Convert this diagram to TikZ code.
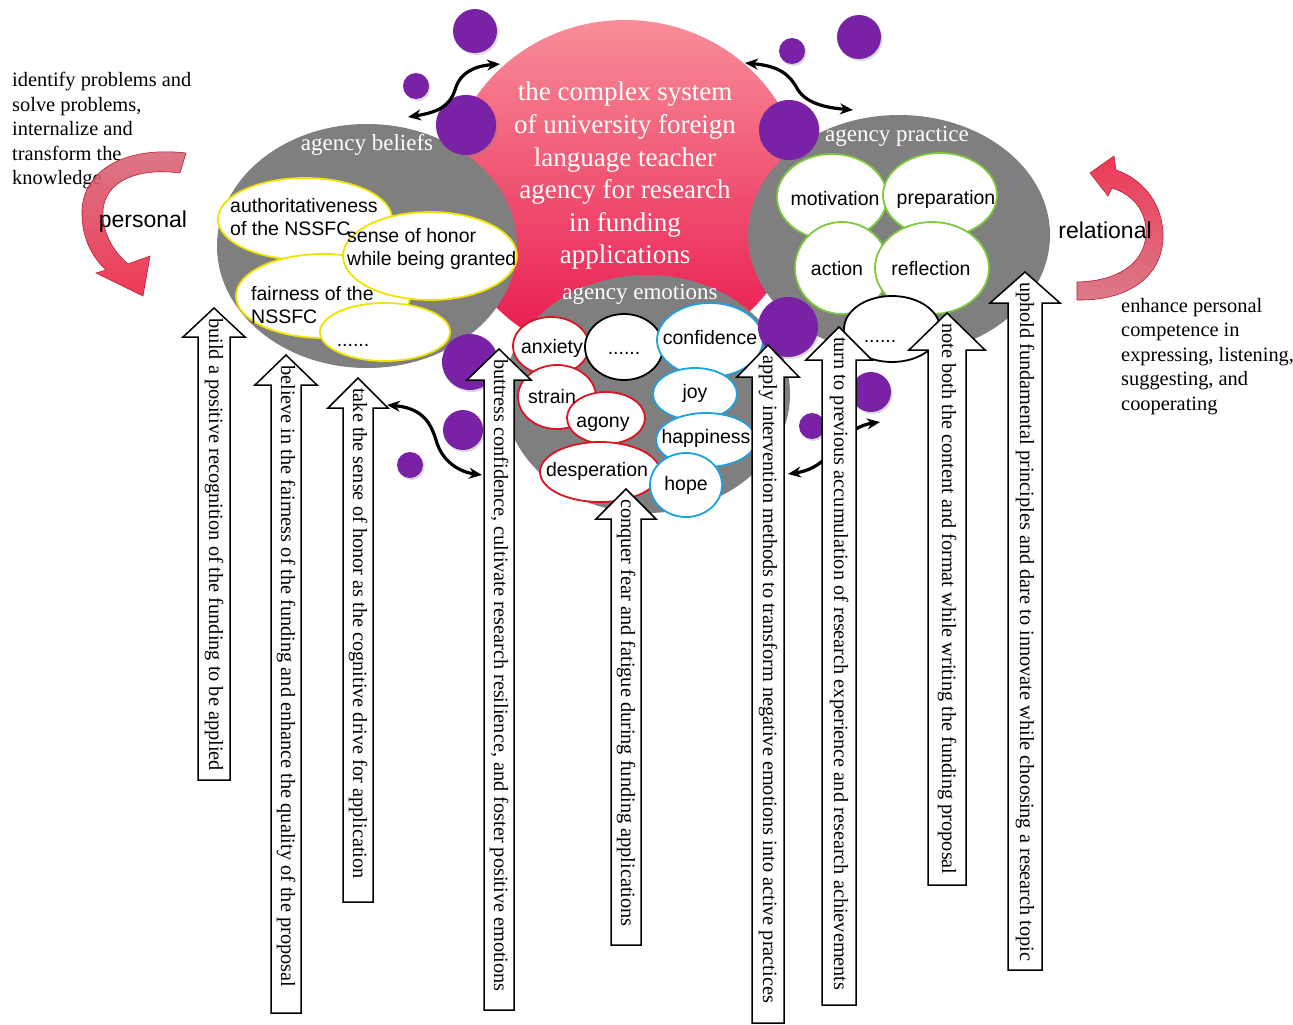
\documentclass[tikz,border=0pt]{standalone}
\usepackage{fontspec}
\setmainfont{Liberation Serif}
\setsansfont{Liberation Sans}
\usetikzlibrary{shapes.geometric,arrows.meta,shadows}
\definecolor{gbg}{RGB}{127,127,127}
\definecolor{yelb}{RGB}{238,228,0}
\definecolor{redb}{RGB}{218,20,35}
\definecolor{blueb}{RGB}{30,160,225}
\definecolor{greenb}{RGB}{125,200,60}
\definecolor{purpc}{RGB}{122,34,165}
\definecolor{pinktop}{RGB}{248,142,152}
\definecolor{pinkmid}{RGB}{244,105,125}
\definecolor{pinkbot}{RGB}{232,20,75}
\definecolor{arrpale}{RGB}{214,108,124}
\definecolor{arrred}{RGB}{236,36,68}
\newcommand{\myvup}[8]{%
  \draw[arrowbox] (#2-#6,#5) -- (#2-#6,#4) -- (#2-#7,#4) -- (#2,#3) -- (#2+#7,#4) -- (#2+#6,#4) -- (#2+#6,#5) -- cycle;
  \node[arrowtext] (#1) at (#2,#3+10) {#8};}
\begin{document}
\begin{tikzpicture}[x=1pt,y=-1pt,
  grayel/.style={ellipse, fill=gbg, inner sep=0pt},
  inel/.style={ellipse, draw, fill=white, line width=1.8pt, inner sep=0pt},
  titletext/.style={font=\fontsize{23}{27}\selectfont, text=white, inner sep=0pt},
  eltext/.style={font=\sffamily\fontsize{19.5}{23}\selectfont, inner sep=0pt, align=left},
  purp/.style={circle, fill=purpc, inner sep=0pt, drop shadow={shadow xshift=1.5pt, shadow yshift=-2pt, opacity=0.3}},
  curv/.style={line width=3.2pt, {Stealth[length=13pt,width=11pt]}-{Stealth[length=13pt,width=11pt]}},
  arrowbox/.style={draw=black, fill=white, line width=1.5pt, line join=miter},
  arrowtext/.style={rotate=-90, anchor=west, inner sep=0pt, font=\fontsize{20.3}{24}\selectfont},
  sidetext/.style={font=\fontsize{20.4}{24.5}\selectfont, align=left, inner sep=0pt, anchor=north west},
  bandarrow/.style={draw=arrred!80!black, line width=0.6pt, fill opacity=0.9}
]
\useasboundingbox (0,0) rectangle (1293,1025);

% side texts
\node[sidetext] (lefttext) at (12,72) {identify problems and\\solve problems,\\internalize and\\transform the\\knowledge};
\node[sidetext] (righttext) at (1121,298) {enhance personal\\competence in\\expressing, listening,\\suggesting, and\\cooperating};

% central pink system
\path[top color=pinktop, middle color=pinkmid, bottom color=pinkbot] (625,190) ellipse [x radius=178, y radius=170];

% gray ellipses
\node[grayel, minimum width=300pt, minimum height=244pt] (beliefs) at (367,246) {};
\node[grayel, minimum width=302pt, minimum height=240pt] (practice) at (899,235) {};
\node[grayel, minimum width=286pt, minimum height=238pt] (emotions) at (647,394) {};

\node[font=\fontsize{27}{32.6}\selectfont, text=white, align=center, inner sep=0pt] (system) at (625,176)
  {the complex system\\of university foreign\\language teacher\\agency for research\\in funding\\applications};

\node[titletext] (tbeliefs) at (367,145) {agency beliefs};
\node[titletext] (tpractice) at (897,136) {agency practice};
\node[titletext] (temotions) at (640,294) {agency emotions};

% beliefs
\node[inel, draw=yelb, minimum width=174pt, minimum height=82pt] (eauth) at (305,219) {};
\node[inel, draw=yelb, minimum width=174pt, minimum height=84pt] (efair) at (323,296) {};
\node[inel, draw=yelb, minimum width=174pt, minimum height=88pt] (esense) at (430,256) {};
\node[inel, draw=yelb, minimum width=130pt, minimum height=58pt] (ebdots) at (385,332) {};
\node[eltext, anchor=west] (tauth) at (230,217.5) {authoritativeness\\of the NSSFC};
\node[eltext, anchor=west] (tsense) at (347,248.5) {sense of honor\\while being granted};
\node[eltext, anchor=west] (tfair) at (251,305.5) {fairness of the\\NSSFC};
\node[eltext, anchor=base] (tbdots) at (353,346) {......};

% emotions
\node[inel, draw=redb, minimum width=76pt, minimum height=58pt] (eanx) at (551,346) {};
\node[inel, draw=redb, minimum width=78pt, minimum height=64pt] (estrain) at (557,397) {};
\node[inel, draw=redb, minimum width=78pt, minimum height=52pt] (eagony) at (606,418) {};
\node[inel, draw=redb, minimum width=120pt, minimum height=60pt] (edesp) at (600,472) {};
\node[inel, draw=black, minimum width=78pt, minimum height=66pt] (eedots) at (624,347) {};
\node[inel, draw=blueb, minimum width=106pt, minimum height=74pt] (econf) at (710,340) {};
\node[inel, draw=blueb, minimum width=84pt, minimum height=52pt] (ejoy) at (695,394) {};
\node[inel, draw=blueb, minimum width=100pt, minimum height=54pt] (ehapp) at (706,440) {};
\node[inel, draw=blueb, minimum width=72pt, minimum height=64pt] (ehope) at (686,485) {};
\node[eltext] (tanx) at (552,348) {anxiety};
\node[eltext, anchor=base] (tedots) at (624,354) {......};
\node[eltext] (tconf) at (710,338) {confidence};
\node[eltext] (tstrain) at (552,397) {strain};
\node[eltext] (tagony) at (603,424) {agony};
\node[eltext] (tjoy) at (695,393) {joy};
\node[eltext] (thapp) at (706,438) {happiness};
\node[eltext] (tdesp) at (597,471) {desperation};
\node[eltext] (thope) at (686,485) {hope};

% practice
\node[inel, draw=greenb, minimum width=110pt, minimum height=86pt] (emot) at (832,197) {};
\node[inel, draw=greenb, minimum width=114pt, minimum height=84pt] (eprep) at (940,195) {};
\node[inel, draw=greenb, minimum width=94pt, minimum height=92pt] (eact) at (842,268) {};
\node[inel, draw=greenb, minimum width=114pt, minimum height=92pt] (erefl) at (932,268) {};
\node[inel, draw=black, minimum width=96pt, minimum height=66pt] (epdots) at (892,329) {};
\node[eltext] (tmot) at (835,199) {motivation};
\node[eltext] (tprep) at (946,199) {preparation};
\node[eltext] (tact) at (837,269) {action};
\node[eltext] (trefl) at (931,269) {reflection};
\node[eltext, anchor=base] (tpdots) at (880,342) {......};

% purple circles
\node[purp, minimum size=44pt] (p1) at (475,31) {};
\node[purp, minimum size=26pt] (p2) at (416,86) {};
\node[purp, minimum size=60pt] (p3) at (466,125) {};
\node[purp, minimum size=26pt] (p4) at (792,51) {};
\node[purp, minimum size=44pt] (p5) at (859,37) {};
\node[purp, minimum size=60pt] (p6) at (789,130) {};
\node[purp, minimum size=56pt] (p7) at (470,362) {};
\node[purp, minimum size=40pt] (p8) at (463,430) {};
\node[purp, minimum size=26pt] (p9) at (410,465) {};
\node[purp, minimum size=60pt] (p10) at (788,327) {};
\node[purp, minimum size=40pt] (p11) at (871,392) {};
\node[purp, minimum size=26pt] (p12) at (812,426) {};

% curved double arrows
\coordinate (c1a) at (408,117); \coordinate (c1b) at (500,64);
\coordinate (c2a) at (745,63); \coordinate (c2b) at (853,110);
\coordinate (c3a) at (387,405); \coordinate (c3b) at (482,475);
\coordinate (c4a) at (788,474); \coordinate (c4b) at (880,422);
\draw[curv] (c1a) .. controls (440,112) and (450,105) .. (455,90) .. controls (460,72) and (475,66) .. (c1b);
\draw[curv] (c2a) .. controls (780,66) and (790,75) .. (798,90) .. controls (808,105) and (830,108) .. (c2b);
\draw[curv] (c3a) .. controls (420,408) and (430,420) .. (436,440) .. controls (442,462) and (460,472) .. (c3b);
\draw[curv] (c4a) .. controls (815,470) and (825,460) .. (838,445) .. controls (848,432) and (860,425) .. (c4b);

% vertical arrows
\myvup{a1}{214}{308}{337}{780}{16}{31}{build a positive recognition of the funding to be applied}
\myvup{a2}{286}{355}{385}{1013}{15}{31}{believe in the fairness of the funding and enhance the quality of the proposal}
\myvup{a3}{358}{378}{408}{902}{15}{30}{take the sense of honor as the cognitive drive for application}
\myvup{a4}{499}{349}{380}{1010}{15}{32}{buttress confidence, cultivate research resilience, and foster positive emotions}
\myvup{a5}{626}{489}{519}{945}{15}{30}{conquer fear and fatigue during funding applications}
\myvup{a6}{768}{345}{377}{1023}{16}{31}{apply intervention methods to transform negative emotions into active practices}
\myvup{a7}{839}{327}{360}{1005}{17}{33}{turn to previous accumulation of research experience and research achievements}
\myvup{a8}{947}{313}{350}{885}{19}{38}{note both the content and format while writing the funding proposal}
\myvup{a9}{1025}{272}{303}{970}{17}{35}{uphold fundamental principles and dare to innovate while choosing a research topic}

% personal / relational curved band arrows
\path[bandarrow, top color=arrpale, bottom color=arrred]
  (186,153) .. controls (125,146) and (84,170) .. (82,210) .. controls (81,238) and (93,258) .. (106,270)
  -- (96,273) -- (143,296) -- (150,256) -- (128,264)
  .. controls (112,250) and (102,232) .. (103,210) .. controls (105,183) and (135,167) .. (180,173) -- cycle;
\path[bandarrow, top color=arrred, bottom color=arrpale]
  (1077,300) .. controls (1130,301) and (1165,275) .. (1163,232) .. controls (1161,200) and (1140,178) .. (1116,170)
  -- (1114,156) -- (1090,173) -- (1108,196) -- (1112,188)
  .. controls (1134,195) and (1147,212) .. (1146,235) .. controls (1144,262) and (1120,281) .. (1077,282) -- cycle;
\node[font=\sffamily\fontsize{23}{27}\selectfont, inner sep=0pt] (personal) at (143,222) {personal};
\node[font=\sffamily\fontsize{23}{27}\selectfont, inner sep=0pt] (relational) at (1105,230) {relational};
\end{tikzpicture}
\end{document}
